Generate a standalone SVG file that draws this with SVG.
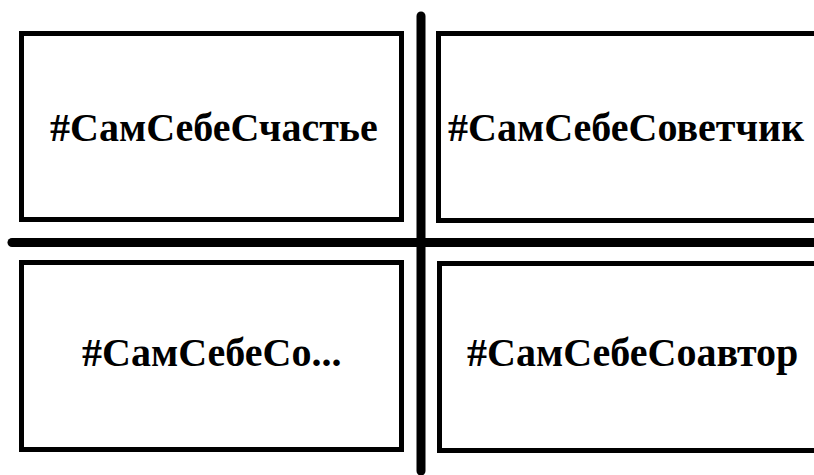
<svg xmlns="http://www.w3.org/2000/svg" width="814" height="475" viewBox="0 0 814 475">
<style>
.box{fill:#fff;stroke:#000;stroke-width:5}
.div{stroke:#000;stroke-width:9;stroke-linecap:round;fill:none}
.lbl{font-family:"Liberation Serif","Times New Roman",serif;font-weight:bold;font-size:40px;fill:#000}
</style>
<rect width="814" height="475" fill="#fff"/>
<g id="dividers">
<line class="div" x1="421" y1="16" x2="421" y2="471"/>
<line class="div" x1="12" y1="242.5" x2="820" y2="242.5"/>
</g>
<g id="n1"><rect class="box" x="21.5" y="33.5" width="380" height="186"/><text class="lbl" x="50" y="141">#СамСебеСчастье</text></g>
<g id="n2"><rect class="box" x="438.5" y="33.5" width="390" height="187"/><text class="lbl" x="448" y="141">#СамСебеСоветчик</text></g>
<g id="n3"><rect class="box" x="21.5" y="262.5" width="380" height="187"/><text class="lbl" x="82" y="366">#СамСебеСо...</text></g>
<g id="n4"><rect class="box" x="439.5" y="263.5" width="390" height="187"/><text class="lbl" x="467" y="366">#СамСебеСоавтор</text></g>
</svg>
